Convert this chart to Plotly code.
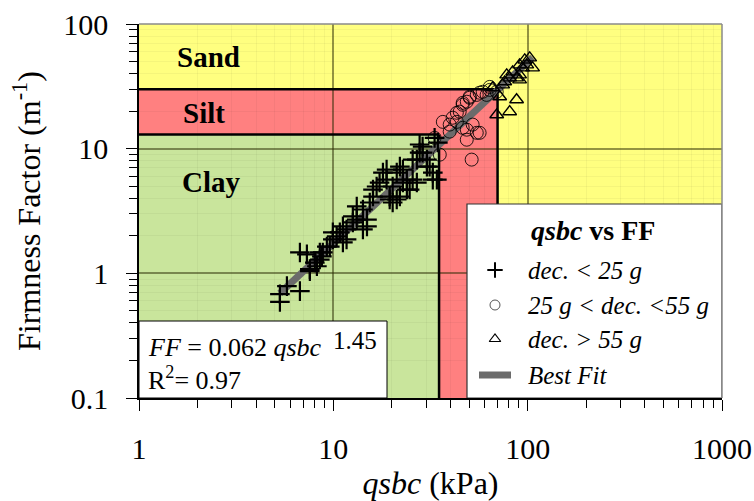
import plotly.graph_objects as go

# ---------------- data ----------------
x_tickvals = [1, 10, 100, 1000]
x_ticktext = ["1", "10", "100", "1000"]
y_tickvals = [0.1, 1, 10, 100]
y_ticktext = ["0.1", "1", "10", "100"]

# soil class thresholds (qsbc kPa, FF 1/m)
clay_q_max = 35
silt_q_max = 70
clay_ff_max = 13
silt_ff_max = 30

# dec. < 25 g  (qsbc, FF)
low_pts = [
    (5.31, 0.68), (5.31, 0.59), (6.73, 0.72), (5.77, 0.79), (6.73, 1.47),
    (7.31, 1.42), (7.57, 1.04), (8.23, 1.14), (8.52, 1.29), (8.83, 1.47),
    (9.59, 1.64), (9.94, 1.87), (10.4, 1.98), (10.8, 2.13), (11.7, 1.87),
    (11.7, 2.25), (12.6, 2.56), (13.2, 2.70), (14.2, 2.25), (13.2, 3.44),
    (14.2, 3.25), (14.9, 2.70), (16.0, 4.13), (16.0, 4.70), (17.3, 5.35),
    (18.0, 6.43), (18.8, 5.65), (19.5, 4.13), (20.2, 3.70), (21.2, 6.43),
    (22.0, 7.18), (22.8, 5.35), (23.9, 4.70), (25.6, 5.65), (26.9, 8.17),
    (27.8, 9.29), (28.8, 10.4), (30.3, 7.18), (32.5, 6.43), (34.1, 5.65),
    (22.0, 4.13), (20.2, 4.97), (7.57, 1.08), (8.03, 1.22), (8.73, 1.37),
    (9.26, 1.64), (11.2, 1.77), (12.6, 2.86), (14.9, 2.38), (15.4, 3.70),
    (16.7, 4.97), (19.5, 3.91), (23.9, 5.65), (24.7, 4.70), (26.9, 5.35),
    (32.5, 5.65), (33.2, 12.2), (34.5, 11.2), (31.3, 7.18), (28.8, 9.29),
    (21.2, 3.91), (18.8, 6.79), (22.8, 6.79), (25.6, 8.17), (11.2, 2.38),
    (9.94, 2.13), (8.52, 1.47), (30.3, 8.17), (27.8, 10.8),
]
low_q = [p[0] for p in low_pts]
low_ff = [p[1] for p in low_pts]

# 25 g < dec. < 55 g
mid_pts = [
    (36.6, 16.4), (39.7, 15.6), (41.1, 17.7), (44.7, 19.8), (46.3, 22.5),
    (48.6, 23.8), (50.3, 25.6), (54.7, 27.0), (58.7, 28.6), (63.8, 29.6),
    (43.2, 16.4), (46.3, 14.7), (48.6, 11.8), (56.6, 13.4), (51.5, 8.17),
    (35.3, 8.95), (33.2, 12.2), (39.7, 13.7), (52.1, 15.6), (61.5, 27.0),
    (69.3, 28.6), (43.2, 19.4), (46.3, 23.3), (50.3, 26.1), (56.6, 28.1),
    (63.8, 31.3), (48.6, 14.2), (54.7, 13.4),
]
mid_q = [p[0] for p in mid_pts]
mid_ff = [p[1] for p in mid_pts]

# dec. > 55 g
high_pts = [
    (69.3, 18.7), (80.8, 19.8), (87.7, 24.7), (71.8, 26.1), (74.4, 32.5),
    (80.8, 37.0), (87.7, 37.0), (90.9, 39.1), (94.2, 44.5), (98.9, 47.0),
    (106.0, 44.5), (102.4, 53.5), (96.6, 51.5), (78.0, 39.1), (83.7, 41.3),
    (90.9, 47.0), (66.1, 30.8), (76.2, 34.4), (90.9, 35.6),
]
high_q = [p[0] for p in high_pts]
high_ff = [p[1] for p in high_pts]

# best fit line end points  (FF = 0.062 qsbc^1.45)
fit_q = [5.3, 106]
fit_ff = [0.69, 54]

legend_labels = ["<i>dec. < 25 g</i>", "<i>25 g < dec. <55 g</i>",
                 "<i>dec. > 55 g</i>", "<i>Best Fit</i>"]

# ---------------- figure ----------------
FONT = "Liberation Serif"
W, H = 754, 501
L, R, T, B = 139, 32, 24, 103
PW, PH = W - L - R, H - T - B


def px_x(px):
    return (px - L) / PW


def px_y(py):
    return (H - B - py) / PH


def dom_to_logx(f):
    return 10 ** (0 + 3 * f)


def dom_to_logy(f):
    return 10 ** (-1 + 3 * f)


fig = go.Figure()

fig.add_trace(go.Scatter(x=fit_q, y=fit_ff, mode="lines",
                         line=dict(color="#6b6b6b", width=7),
                         hoverinfo="skip"))
fig.add_trace(go.Scatter(x=low_q, y=low_ff, mode="markers",
                         marker=dict(symbol="cross-thin-open", size=14, color="black",
                                     line=dict(color="black", width=2.2))))
fig.add_trace(go.Scatter(x=mid_q, y=mid_ff, mode="markers",
                         marker=dict(symbol="circle-open", size=13, color="rgba(0,0,0,0.85)",
                                     line=dict(color="rgba(0,0,0,0.85)", width=1))))
fig.add_trace(go.Scatter(x=high_q, y=high_ff, mode="markers",
                         marker=dict(symbol="triangle-up-open", size=12, color="black",
                                     line=dict(color="black", width=1.4))))

# legend symbols on an invisible overlay axis (0..1 of plot area)
leg_sym_x = px_x(495)
leg_rows = [px_y(270), px_y(305), px_y(339), px_y(375)]
fig.add_trace(go.Scatter(x=[leg_sym_x], y=[leg_rows[0]], xaxis="x2", yaxis="y2",
                         mode="markers",
                         marker=dict(symbol="cross-thin-open", size=11, color="black",
                                     line=dict(color="black", width=2))))
fig.add_trace(go.Scatter(x=[leg_sym_x], y=[leg_rows[1]], xaxis="x2", yaxis="y2",
                         mode="markers",
                         marker=dict(symbol="circle-open", size=10, color="#555",
                                     line=dict(color="#555", width=1))))
fig.add_trace(go.Scatter(x=[leg_sym_x], y=[leg_rows[2]], xaxis="x2", yaxis="y2",
                         mode="markers",
                         marker=dict(symbol="triangle-up-open", size=10, color="black",
                                     line=dict(color="black", width=1.2))))
fig.add_trace(go.Scatter(x=[px_x(479), px_x(511)], y=[leg_rows[3], leg_rows[3]],
                         xaxis="x2", yaxis="y2", mode="lines",
                         line=dict(color="#6b6b6b", width=7)))

minor_x = [m * 10 ** e for e in range(0, 3) for m in range(2, 10)]
minor_y = [m * 10 ** e for e in range(-1, 2) for m in range(2, 10)]

axis_common = dict(
    type="log", ticks="outside", ticklen=11, tickwidth=1.2, tickcolor="black",
    showline=True, linecolor="black", linewidth=1.5, zeroline=False,
    automargin=False,
    showgrid=True, gridcolor="rgba(40,40,0,0.5)", gridwidth=1.5,
    tickfont=dict(family=FONT, size=30, color="black"),
)

fig.update_layout(
    width=W, height=H,
    margin=dict(l=L, r=R, t=T, b=B, autoexpand=False),
    paper_bgcolor="white", plot_bgcolor="#FFFF80",
    showlegend=False,
    font=dict(family=FONT, color="black"),
    xaxis=dict(axis_common, range=[0, 3], tickvals=x_tickvals, ticktext=x_ticktext,
               ticklabelstandoff=12,
               minor=dict(tickvals=minor_x, ticks="outside", ticklen=8,
                          tickcolor="black", tickwidth=1, showgrid=True,
                          gridcolor="rgba(0,0,0,0.04)", gridwidth=1),
               title=dict(text="<i>qsbc</i> (kPa)", standoff=9,
                          font=dict(family=FONT, size=32, color="black"))),
    yaxis=dict(axis_common, range=[-1, 2], tickvals=y_tickvals, ticktext=y_ticktext,
               ticklabelstandoff=12,
               minor=dict(tickvals=minor_y, ticks="outside", ticklen=8,
                          tickcolor="black", tickwidth=1, showgrid=True,
                          gridcolor="rgba(0,0,0,0.04)", gridwidth=1),
               title=dict(text="Firmness Factor (m<sup>-1</sup>)", standoff=13,
                          font=dict(family=FONT, size=32, color="black"))),
    xaxis2=dict(overlaying="x", range=[0, 1], visible=False, fixedrange=True),
    yaxis2=dict(overlaying="y", range=[0, 1], visible=False, fixedrange=True),
)

shapes = [
    dict(type="rect", xref="x", yref="y", x0=1, x1=silt_q_max, y0=0.1, y1=silt_ff_max,
         fillcolor="#FF8080", line=dict(width=0), layer="below"),
    dict(type="rect", xref="x", yref="y", x0=1, x1=clay_q_max, y0=0.1, y1=clay_ff_max,
         fillcolor="#C9E59C", line=dict(width=0), layer="below"),
    dict(type="line", xref="x", yref="y", x0=1, x1=silt_q_max, y0=silt_ff_max, y1=silt_ff_max,
         line=dict(color="black", width=2.5), layer="between"),
    dict(type="line", xref="x", yref="y", x0=silt_q_max, x1=silt_q_max, y0=0.1, y1=silt_ff_max,
         line=dict(color="black", width=2.5), layer="between"),
    dict(type="line", xref="x", yref="y", x0=1, x1=clay_q_max, y0=clay_ff_max, y1=clay_ff_max,
         line=dict(color="black", width=2.5), layer="between"),
    dict(type="line", xref="x", yref="y", x0=clay_q_max, x1=clay_q_max, y0=0.1, y1=clay_ff_max,
         line=dict(color="black", width=2.5), layer="between"),
    # equation box
    dict(type="rect", xref="x", yref="y", x0=1, x1=dom_to_logx(px_x(387)),
         y0=0.1, y1=dom_to_logy(px_y(321)),
         fillcolor="white", line=dict(color="black", width=1), layer="between"),
    # legend box
    dict(type="rect", xref="x", yref="y", x0=dom_to_logx(px_x(467)), x1=1000,
         y0=0.1, y1=dom_to_logy(px_y(204)),
         fillcolor="white", line=dict(color="#333", width=1.2), layer="between"),
    # grey top/right frame
    dict(type="line", xref="paper", yref="paper", x0=0, x1=1, y0=1, y1=1,
         line=dict(color="#8a8a8a", width=1.5), layer="above"),
    dict(type="line", xref="paper", yref="paper", x0=1, x1=1, y0=0, y1=1,
         line=dict(color="#8a8a8a", width=1.5), layer="above"),
]
fig.update_layout(shapes=shapes)

ann = []


def add_text(text, px, py, size, xanchor="left"):
    ann.append(dict(text=text, xref="paper", yref="paper", x=px_x(px), y=px_y(py),
                    xanchor=xanchor, yanchor="middle", showarrow=False,
                    font=dict(family=FONT, size=size, color="black")))


add_text("<b>Sand</b>", 175, 57, 29)
add_text("<b>Silt</b>", 181, 113, 29)
add_text("<b>Clay</b>", 180, 182, 29)

add_text("<b><i>qsbc</i> vs FF</b>", 593, 230, 28, xanchor="center")
for lbl, row_py in zip(legend_labels, [270, 305, 339, 375]):
    add_text(lbl, 526, row_py, 25)

add_text("<i>FF</i> = 0.062 <i>qsbc</i>", 146, 347, 26)
add_text("1.45", 331, 340, 25)
add_text("R<sup>2</sup>= 0.97", 146, 378, 26)

fig.update_layout(annotations=ann)

fig.write_html("out.html",
               config={"displayModeBar": False},
               post_script="document.body.style.margin='0px';"
                           "document.body.style.overflow='hidden';")
